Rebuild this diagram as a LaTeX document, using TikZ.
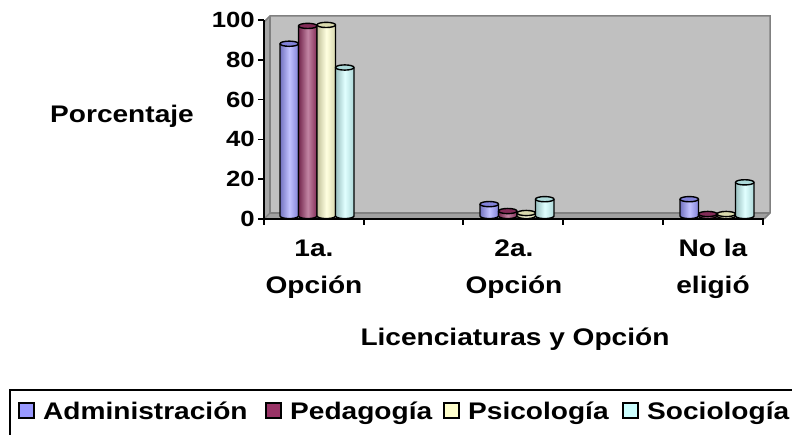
\documentclass[tikz,border=0pt]{standalone}
\usepackage{fontspec}
\setmainfont{Liberation Sans}[FakeStretch=1.17]
\definecolor{cadm}{HTML}{9999FF}
\definecolor{cped}{HTML}{993366}
\definecolor{cpsi}{HTML}{FFFFCC}
\definecolor{csoc}{HTML}{CCFFFF}
\definecolor{wallgray}{HTML}{C0C0C0}
\definecolor{edgegray}{HTML}{808080}
\newcommand{\cyl}[4]{%
  \pgfmathsetmacro{\yt}{216-#3*1.98}%
  \pgfmathsetmacro{\xr}{#1+#2}%
  \pgfmathsetmacro{\xm}{#1+#2/2}%
  \pgfmathsetmacro{\rx}{#2/2}%
  \shade[left color=#4!75!black, right color=#4!85!black, middle color=#4!60!white]
    (#1,\yt) -- (#1,216) arc[start angle=180,end angle=0,x radius=\rx,y radius=2.6] -- (\xr,\yt) -- cycle;
  \draw[barline] (#1,\yt) -- (#1,216) arc[start angle=180,end angle=0,x radius=\rx,y radius=2.6] -- (\xr,\yt);
  \filldraw[barline, fill=#4!85!black] (\xm,\yt) ellipse[x radius=\rx, y radius=2.6];
}
\begin{document}
\begin{tikzpicture}[x=1pt,y=-1pt,
  barline/.style={draw=black, line width=1.4pt, line join=round},
  ticklbl/.style={font=\bfseries\fontsize{22}{22}\selectfont, anchor=east, inner sep=0pt},
  catlbl/.style={font=\bfseries\fontsize{24}{24}\selectfont, anchor=base, inner sep=0pt},
  legtxt/.style={font=\bfseries\fontsize{24}{24}\selectfont, anchor=base west, inner sep=0pt},
  legsq/.style={draw=black, line width=1.4pt, minimum size=15pt, inner sep=0pt}]
\useasboundingbox (0,0) rectangle (792,435);
% walls
\fill[edgegray!70] (264,22) -- (270,16) -- (270,213) -- (264,219) -- cycle;
\fill[wallgray] (270,16) rectangle (770,213);
\fill[edgegray!75] (264,219) -- (270,213) -- (770,213) -- (764,219) -- cycle;
\draw[edgegray, line width=1.5pt] (264,22) -- (270,16) -- (770,16) -- (770,213) -- (764,219);
\draw[edgegray, line width=1.2pt] (270,16) -- (270,213) -- (770,213);
\draw[edgegray, line width=1.2pt] (264,219) -- (270,213);
% axes
\coordinate (o) at (264,219);
\coordinate (ytop) at (264,20);
\coordinate (xend) at (764,219);
\draw[black, line width=1.6pt] (ytop) -- (o) -- (xend);
\foreach \v in {0,20,...,100}{
  \draw[black, line width=1.6pt] (258,219-\v*1.99) -- (264,219-\v*1.99);
  \node[ticklbl] (t\v) at (255,219-\v*1.99) {\v};
}
\foreach \x in {264,364,463,563,663,763}{
  \draw[black, line width=1.6pt] (\x,219) -- (\x,225);
}
% bars
\cyl{280}{18.5}{87}{cadm}
\cyl{298.5}{18.5}{96}{cped}
\cyl{317}{18.5}{96.5}{cpsi}
\cyl{335.5}{18.5}{75}{csoc}
\cyl{480}{18.5}{6}{cadm}
\cyl{498.5}{18.5}{2.5}{cped}
\cyl{517}{18.5}{1.5}{cpsi}
\cyl{535.5}{18.5}{8.5}{csoc}
\cyl{680}{18.5}{8.5}{cadm}
\cyl{698.5}{18.5}{1}{cped}
\cyl{717}{18.5}{1}{cpsi}
\cyl{735.5}{18.5}{17}{csoc}
% category labels
\node[catlbl] (c1a) at (314,257) {1a.};
\node[catlbl] (c1b) at (314,294) {Opción};
\node[catlbl] (c2a) at (514,257) {2a.};
\node[catlbl] (c2b) at (514,294) {Opción};
\node[catlbl] (c3a) at (713,257) {No la};
\node[catlbl] (c3b) at (713,294) {eligió};
\node[font=\bfseries\fontsize{24}{24}\selectfont, anchor=base, inner sep=0pt] (ylab) at (122,123) {Porcentaje};
\node[font=\bfseries\fontsize{24}{24}\selectfont, anchor=base, inner sep=0pt] (xlab) at (515,345) {Licenciaturas y Opción};
% legend
\draw[black, line width=1.8pt] (10,445) -- (10,390) -- (800,390);
\node[legsq, fill=cadm] (s1) at (26.5,410.5) {};
\node[legtxt] (l1) at (43,419) {Administración};
\node[legsq, fill=cped] (s2) at (273.5,410.5) {};
\node[legtxt] (l2) at (290,419) {Pedagogía};
\node[legsq, fill=cpsi] (s3) at (451.5,410.5) {};
\node[legtxt] (l3) at (468,419) {Psicología};
\node[legsq, fill=csoc] (s4) at (630.5,410.5) {};
\node[legtxt] (l4) at (647,419) {Sociología};
\end{tikzpicture}
\end{document}
